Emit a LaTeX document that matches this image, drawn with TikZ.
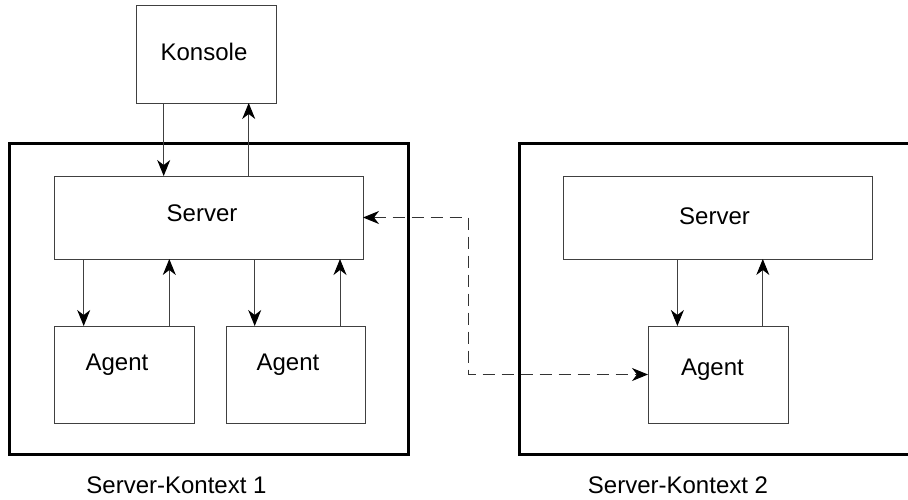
\documentclass[tikz,border=0pt]{standalone}
\usepackage{fontspec}
\setmainfont{Liberation Sans}
\usetikzlibrary{arrows.meta}
\begin{document}
\begin{tikzpicture}[x=1pt,y=-1pt,
  box/.style={draw=black!75,line width=1pt,inner sep=0pt,outer sep=0pt,fill=none},
  ctx/.style={draw=black,line width=3pt,inner sep=0pt,outer sep=0pt},
  lbl/.style={anchor=base,inner sep=0pt,font=\fontsize{24}{28}\selectfont},
  arr/.style={draw=black!75,line width=1pt,-{Stealth[length=16pt,width=13pt,inset=5pt,black]}},
  darr/.style={draw=black!80,line width=1pt,dash pattern=on 12pt off 7pt,{Stealth[length=16pt,width=13pt,inset=5pt,black]}-{Stealth[length=16pt,width=13pt,inset=5pt,black]}}
]
\useasboundingbox (0,0) rectangle (908,499);
\clip (0,0) rectangle (908,499);
% boxes
\node[box,minimum width=140pt,minimum height=98pt] (konsole) at (206,54) {};
\node[ctx,minimum width=399pt,minimum height=311pt] (ctx1) at (209,298.5) {};
\node[box,minimum width=309pt,minimum height=83pt] (server1) at (208.5,217.5) {};
\node[box,minimum width=140pt,minimum height=97pt] (agent1) at (124.5,374.5) {};
\node[box,minimum width=139pt,minimum height=97pt] (agent2) at (296,374.5) {};
\node[ctx,minimum width=421pt,minimum height=311pt] (ctx2) at (729.5,298.5) {};
\node[box,minimum width=309pt,minimum height=83pt] (server2) at (717.5,217.5) {};
\node[box,minimum width=140pt,minimum height=97pt] (agent3) at (718,374.5) {};
% texts
\node[lbl] (tkonsole) at (204,60) {Konsole};
\node[lbl] (tserver1) at (202,221.7) {Server};
\node[lbl] (tagent1) at (117,370.5) {Agent};
\node[lbl] (tagent2) at (288,370.5) {Agent};
\node[lbl] (tserver2) at (714.5,224) {Server};
\node[lbl] (tagent3) at (712.5,375.5) {Agent};
\node[lbl] (tctx1) at (176.5,493) {Server-Kontext 1};
\node[lbl] (tctx2) at (678,493) {Server-Kontext 2};
% arrow columns
\coordinate (c1) at (163.7,0);
\coordinate (c2) at (248.7,0);
\coordinate (c3) at (83.7,0);
\coordinate (c4) at (169.3,0);
\coordinate (c5) at (254.7,0);
\coordinate (c6) at (340,0);
\coordinate (c7) at (677.4,0);
\coordinate (c8) at (762.8,0);
\coordinate (dj) at (468.5,0);
% connectors
\draw[arr] (konsole.south -| c1) -- (server1.north -| c1);
\draw[arr] (server1.north -| c2) -- (konsole.south -| c2);
\draw[arr] (server1.south -| c3) -- (agent1.north -| c3);
\draw[arr] (agent1.north -| c4) -- (server1.south -| c4);
\draw[arr] (server1.south -| c5) -- (agent2.north -| c5);
\draw[arr] (agent2.north -| c6) -- (server1.south -| c6);
\draw[arr] (server2.south -| c7) -- (agent3.north -| c7);
\draw[arr] (agent3.north -| c8) -- (server2.south -| c8);
\draw[darr] (server1.east) -- (server1.east -| dj) -- (agent3.west -| dj) -- (agent3.west);
\end{tikzpicture}
\end{document}
